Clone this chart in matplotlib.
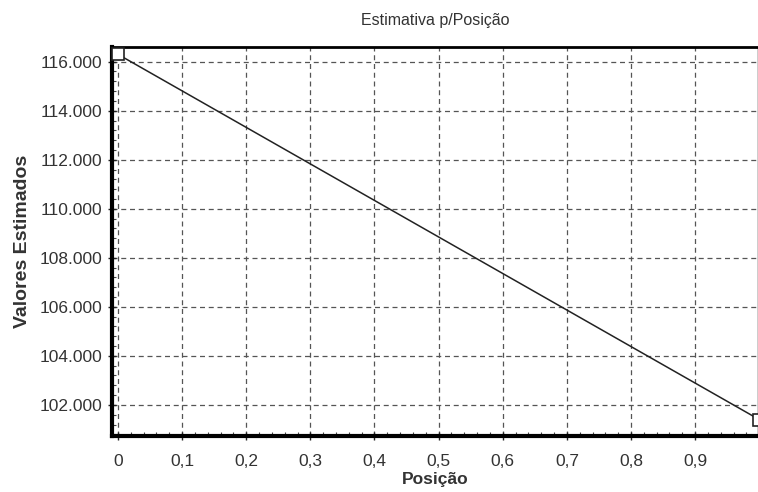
import numpy as np
import matplotlib.pyplot as plt
from matplotlib.ticker import FuncFormatter, MultipleLocator

plt.rcParams['font.family'] = ['Liberation Sans', 'DejaVu Sans']

# data
posicao = [0.0, 1.0]
valores = [116300, 101400]
xticks = [0, 0.1, 0.2, 0.3, 0.4, 0.5, 0.6, 0.7, 0.8, 0.9]
yticks = [102000, 104000, 106000, 108000, 110000, 112000, 114000, 116000]

fig = plt.figure(figsize=(7.58, 4.92), dpi=100)
ax = fig.add_axes([0.148, 0.114, 0.852, 0.791])

ax.plot(posicao, valores, color='#222222', lw=1.1, marker='s', ms=9,
        mfc='white', mec='#222222', mew=1.2, clip_on=False, zorder=3)

ax.set_xlim(-0.009, 0.998)
ax.set_ylim(100735, 116610)
ax.set_xticks(xticks)
ax.set_yticks(yticks)
ax.xaxis.set_major_formatter(FuncFormatter(lambda v, p: ('%g' % v).replace('.', ',')))
ax.yaxis.set_major_formatter(FuncFormatter(lambda v, p: '{:,.0f}'.format(v).replace(',', '.')))
ax.xaxis.set_minor_locator(MultipleLocator(0.02))
ax.yaxis.set_minor_locator(MultipleLocator(400))

ax.grid(True, which='major', ls=(0, (4, 3)), color='#555555', lw=0.9)
ax.tick_params(which='major', direction='inout', length=6, width=1, labelsize=12.5,
               colors='#222222', labelcolor='#333333')
ax.tick_params(which='minor', direction='in', length=3, width=0.8, colors='#444444')
ax.tick_params(axis='x', pad=10)
ax.tick_params(axis='y', pad=4)

for s in ['left', 'bottom']:
    ax.spines[s].set_linewidth(3)
ax.spines['top'].set_linewidth(2)
ax.spines['right'].set_linewidth(1)

ax.set_title('Estimativa p/Posição', fontsize=11.5, color='#333333', pad=16)
ax.set_xlabel('Posição', fontsize=12.5, fontweight='bold', color='#333333', labelpad=2)
ax.set_ylabel('Valores Estimados', fontsize=14, fontweight='bold', color='#333333', labelpad=6)

fig.savefig('out.png', dpi=100)
